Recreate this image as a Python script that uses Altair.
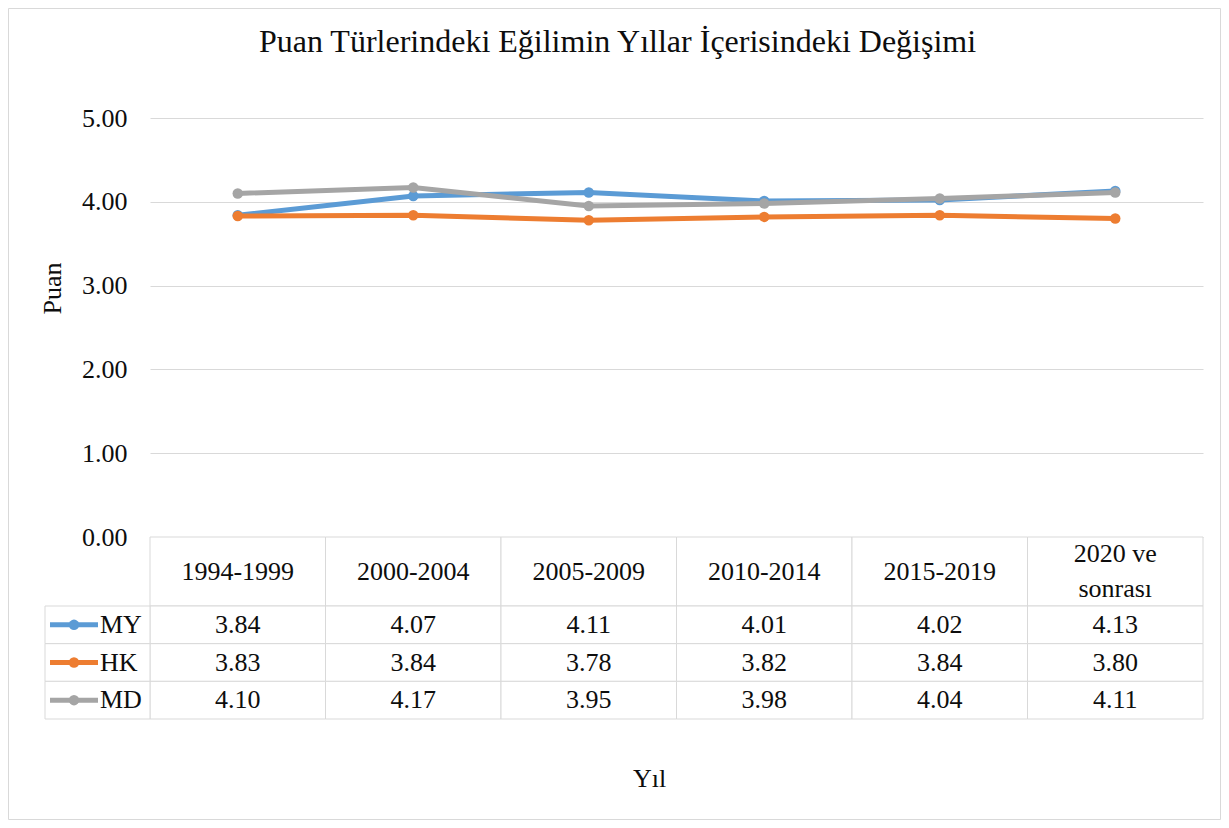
import altair as alt
import pandas as pd

categories = ["1994-1999", "2000-2004", "2005-2009", "2010-2014", "2015-2019", "2020 ve sonrası"]
series_names = ["MY", "HK", "MD"]
series_colors = ["#5B9BD5", "#ED7D31", "#A5A5A5"]
my_values = [3.84, 4.07, 4.11, 4.01, 4.02, 4.13]
hk_values = [3.83, 3.84, 3.78, 3.82, 3.84, 3.80]
md_values = [4.10, 4.17, 3.95, 3.98, 4.04, 4.11]
y_ticks = [0, 1, 2, 3, 4, 5]

values_by_series = {"MY": my_values, "HK": hk_values, "MD": md_values}
rows = []
for s in series_names:
    for c, v in zip(categories, values_by_series[s]):
        rows.append({"category": c, "series": s, "value": v})
df = pd.DataFrame(rows)
legend_df = pd.DataFrame({"series": series_names})
header_df = pd.DataFrame({"category": categories, "row": ["başlık"] * len(categories)})
frame_df = pd.DataFrame({"k": [0]})

W = 1053
H = 419
HEADER = 69
ROWS_H = 113
LINE_H = 35
PAD = {"left": 142, "top": 110, "right": 18, "bottom": 283}
FONT = "Liberation Serif, Times New Roman, serif"
TXT = "#0d0d0d"
GRID = "#D9D9D9"

x_scale = alt.Scale(type="band", domain=categories, paddingInner=0, paddingOuter=0)
y_scale = alt.Scale(domain=[0, 5], nice=False)
header_scale = alt.Scale(type="band", domain=["başlık"], range=[H, H + HEADER],
                         paddingInner=0, paddingOuter=0)
row_scale = alt.Scale(type="band", domain=series_names, range=[H + HEADER, H + HEADER + ROWS_H],
                      paddingInner=0, paddingOuter=0)
color_scale = alt.Scale(domain=series_names, range=series_colors)

x_axis = alt.Axis(
    title="Yıl", titleX=499, titleY=241, titleBaseline="middle", titleFontSize=26,
    titleFontWeight="normal", titleColor=TXT, titleFont=FONT,
    labels=False, ticks=False, domain=False, grid=False,
)
y_axis = alt.Axis(
    values=y_ticks, format=".2f", grid=True, gridColor=GRID, gridWidth=1,
    ticks=False, domain=False, labelPadding=23, labelFontSize=26, labelFont=FONT,
    labelColor=TXT, title="Puan", titleX=-98, titleY=170, titleBaseline="middle",
    titleFontSize=26, titleFontWeight="normal", titleFont=FONT, titleColor=TXT,
)


def xenc():
    return alt.X("category:N", scale=x_scale, axis=x_axis, sort=categories)


layers = []
for i, (s, col) in enumerate(zip(series_names, series_colors)):
    base = alt.Chart(df).transform_filter(alt.datum.series == s)
    ya = y_axis if i == 0 else None
    line = base.mark_line(strokeWidth=5, color=col).encode(
        x=xenc(),
        y=alt.Y("value:Q", scale=y_scale, axis=ya),
    )
    pts = base.mark_point(filled=True, size=110, opacity=1, color=col).encode(
        x=xenc(),
        y=alt.Y("value:Q", scale=y_scale, axis=None),
    )
    layers += [line, pts]

frame = alt.Chart(frame_df).mark_rect(filled=False, stroke=GRID, strokeWidth=1).encode(
    x=alt.value(-PAD["left"] + 0.5), x2=alt.value(W + PAD["right"] - 0.5),
    y=alt.value(-PAD["top"] + 0.5), y2=alt.value(H + PAD["bottom"] - 0.5),
)
header_cells = alt.Chart(header_df).mark_rect(fill="white", stroke=GRID, strokeWidth=1).encode(
    x=xenc(),
    y=alt.Y("row:N", scale=header_scale, axis=None),
)
header_text_single = alt.Chart(header_df).transform_filter(
    "indexof(datum.category, ' sonrası') < 0"
).mark_text(fontSize=26, font=FONT, color=TXT, baseline="middle").encode(
    x=xenc(),
    y=alt.Y("row:N", scale=header_scale, axis=None),
    text="category:N",
)
header_text_multi = alt.Chart(header_df).transform_filter(
    "indexof(datum.category, ' sonrası') >= 0"
).transform_calculate(
    lbl="replace(datum.category, ' sonrası', '\\nsonrası')"
).mark_text(fontSize=26, font=FONT, color=TXT, baseline="middle", lineBreak="\n",
            lineHeight=LINE_H, dy=-LINE_H / 2).encode(
    x=xenc(),
    y=alt.Y("row:N", scale=header_scale, axis=None),
    text="lbl:N",
)
cells = alt.Chart(df).mark_rect(fill="white", stroke=GRID, strokeWidth=1).encode(
    x=xenc(),
    y=alt.Y("series:N", scale=row_scale, axis=None),
)
cell_text = alt.Chart(df).mark_text(fontSize=26, font=FONT, color=TXT, baseline="middle").encode(
    x=xenc(),
    y=alt.Y("series:N", scale=row_scale, axis=None),
    text=alt.Text("value:Q", format=".2f"),
)
leg_cells = alt.Chart(legend_df).mark_rect(fill="white", stroke=GRID, strokeWidth=1).encode(
    x=alt.value(-105), x2=alt.value(0),
    y=alt.Y("series:N", scale=row_scale, axis=None),
)
leg_rule = alt.Chart(legend_df).mark_rule(strokeWidth=5).encode(
    x=alt.value(-100), x2=alt.value(-52),
    y=alt.Y("series:N", scale=row_scale, axis=None),
    color=alt.Color("series:N", scale=color_scale, legend=None),
)
leg_pt = alt.Chart(legend_df).mark_point(filled=True, size=110, opacity=1).encode(
    x=alt.value(-76),
    y=alt.Y("series:N", scale=row_scale, axis=None),
    color=alt.Color("series:N", scale=color_scale, legend=None),
)
leg_txt = alt.Chart(legend_df).mark_text(fontSize=26, font=FONT, color=TXT, align="left",
                                         baseline="middle").encode(
    x=alt.value(-50),
    y=alt.Y("series:N", scale=row_scale, axis=None),
    text="series:N",
)

chart = alt.layer(
    *layers, frame, header_cells, header_text_single, header_text_multi, cells, cell_text,
    leg_cells, leg_rule, leg_pt, leg_txt
).resolve_scale(y="independent").properties(
    width=W, height=H,
    padding=PAD,
    autosize=alt.AutoSizeParams(type="none"),
    title=alt.TitleParams(
        text="Puan Türlerindeki Eğilimin Yıllar İçerisindeki Değişimi",
        fontSize=32, font=FONT, fontWeight="normal", color=TXT,
        anchor="middle", dx=-59, offset=-51,
    ),
).configure(background="white").configure_view(stroke=None)

chart.save("out.html", embed_options={"renderer": "svg", "actions": False})
